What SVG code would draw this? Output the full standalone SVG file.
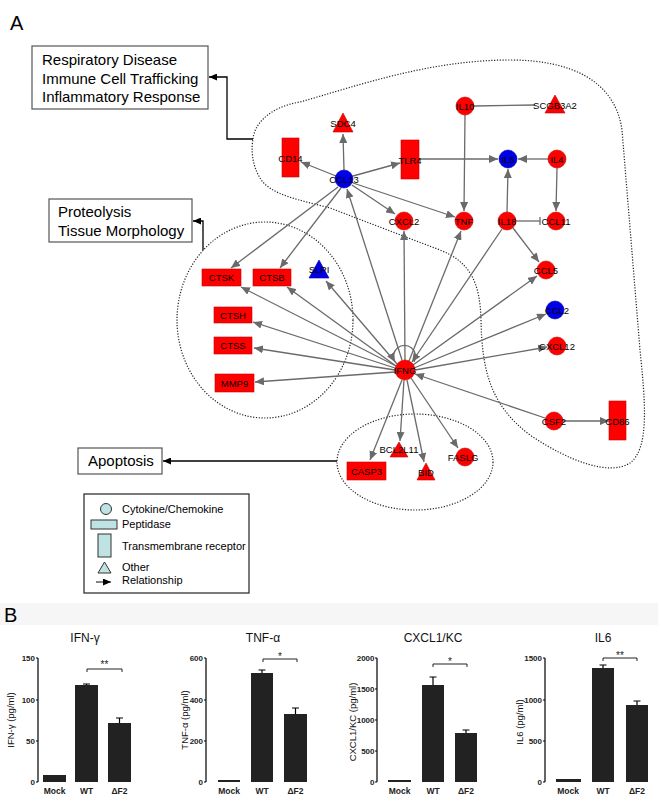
<svg xmlns="http://www.w3.org/2000/svg" width="658" height="800" viewBox="0 0 658 800">
<defs>
<marker id="ah" markerUnits="userSpaceOnUse" markerWidth="9" markerHeight="8" refX="9" refY="4" orient="auto"><path d="M0,0 L9,4 L0,8 z" fill="#6a6a6a"/></marker>
<marker id="ahk" markerUnits="userSpaceOnUse" markerWidth="8" markerHeight="7" refX="8" refY="3.5" orient="auto"><path d="M0,0 L8,3.5 L0,7 z" fill="#000"/></marker>
<style>
.t{font-family:"Liberation Sans",Arial,sans-serif;}
.lbl{font-family:"Liberation Sans",Arial,sans-serif;font-size:9.5px;fill:#000;text-anchor:middle;dominant-baseline:central;}
.big{font-family:"Liberation Sans",Arial,sans-serif;font-size:15px;fill:#000;}
.red{fill:#f00;stroke:#c80000;stroke-width:0.6;}
.blue{fill:#0000e8;stroke:#0000a0;stroke-width:0.6;}
.e{stroke:#6a6a6a;stroke-width:1.3;fill:none;marker-end:url(#ah);}
.en{stroke:#6a6a6a;stroke-width:1.3;fill:none;}
.cat{stroke:#000;stroke-width:1.3;fill:none;marker-end:url(#ahk);}
.box{fill:#fff;stroke:#555;stroke-width:1.2;}
.dot{fill:none;stroke:#222;stroke-width:1.2;stroke-dasharray:1.2 1.6;}
.leg{fill:#bfe3e3;stroke:#333;stroke-width:1;}
.lt{font-family:"Liberation Sans",Arial,sans-serif;font-size:11px;fill:#000;}
.ax{stroke:#000;stroke-width:1.2;fill:none;}
.bar{fill:#222;}
.tk{font-family:"Liberation Sans",Arial,sans-serif;font-size:8px;font-weight:bold;fill:#222;text-anchor:end;}
.xl{font-family:"Liberation Sans",Arial,sans-serif;font-size:8.5px;font-weight:bold;fill:#222;text-anchor:middle;}
.ti{font-family:"Liberation Sans",Arial,sans-serif;font-size:12px;fill:#111;text-anchor:middle;}
.yl{font-family:"Liberation Sans",Arial,sans-serif;font-size:9.5px;fill:#111;text-anchor:middle;}
.st{font-family:"Liberation Sans",Arial,sans-serif;font-size:10px;fill:#222;text-anchor:middle;}
</style>
</defs>
<rect width="658" height="800" fill="#fff"/>
<text class="t" x="10" y="30" font-size="20">A</text>

<!-- group regions -->
<g id="regions">
<path class="dot" d="M253,139 C255,120 275,106 300,102 C360,85 430,60 510,60 C570,60 615,80 622,130 L640,350 C645,400 650,448 630,463 C610,476 570,462 530,435 C490,405 482,370 481,320 C480,282 470,262 440,250 L330,208 C300,200 270,195 260,178 C252,165 251,150 253,139 Z"/>
<ellipse class="dot" cx="265" cy="320" rx="88" ry="98"/>
<ellipse class="dot" cx="415" cy="462" rx="78" ry="48"/>
</g>

<!-- category boxes -->
<g id="cat-respiratory">
<rect class="box" x="32" y="46" width="176" height="63"/>
<text class="big" x="42" y="65">Respiratory Disease</text>
<text class="big" x="42" y="83.5">Immune Cell Trafficking</text>
<text class="big" x="42" y="102">Inflammatory Response</text>
</g>
<g id="cat-proteolysis">
<rect class="box" x="49" y="199" width="143" height="43"/>
<text class="big" x="58" y="217">Proteolysis</text>
<text class="big" x="58" y="236">Tissue Morphology</text>
</g>
<g id="cat-apoptosis">
<rect class="box" x="78" y="448" width="84" height="26"/>
<text class="big" x="88" y="466">Apoptosis</text>
</g>

<!-- connectors -->
<g id="connectors">
<path class="cat" d="M253,139 H227 V77 H209"/>
<path class="cat" d="M203,250 V221 H193"/>
<path class="cat" d="M337,461 H163"/>

<line class="e" x1="336" y1="176" x2="301" y2="162"/>
<line class="e" x1="344" y1="170" x2="343" y2="134"/>
<line class="e" x1="353" y1="176" x2="400" y2="163"/>
<line class="e" x1="419" y1="159" x2="498" y2="159"/>
<line class="e" x1="548" y1="159" x2="518" y2="159"/>
<line class="en" x1="474" y1="106" x2="535" y2="105"/>
<line class="e" x1="465" y1="115" x2="464" y2="211"/>
<line class="e" x1="557" y1="168" x2="556" y2="211"/>
<line class="e" x1="507" y1="212" x2="508" y2="169"/>
<line class="en" x1="516" y1="221" x2="540" y2="221"/>
<line class="en" x1="540" y1="217" x2="540" y2="225"/>
<line class="e" x1="513" y1="228" x2="539" y2="262"/>
<line class="e" x1="352" y1="185" x2="395" y2="214"/>
<line class="e" x1="353" y1="183" x2="455" y2="217"/>
<line class="e" x1="338" y1="187" x2="231" y2="268"/>
<line class="e" x1="341" y1="188" x2="280" y2="268"/>
<line class="e" x1="402" y1="360" x2="347" y2="189"/>
<line class="e" x1="405" y1="360" x2="404" y2="231"/>
<line class="e" x1="409" y1="361" x2="461" y2="231"/>
<line class="e" x1="502" y1="229" x2="412" y2="362"/>
<line class="e" x1="413" y1="365" x2="537" y2="276"/>
<line class="e" x1="414" y1="368" x2="546" y2="314"/>
<line class="e" x1="415" y1="370" x2="547" y2="347"/>
<line class="e" x1="545" y1="418" x2="415" y2="374"/>
<line class="e" x1="563" y1="421" x2="609" y2="421"/>
<line class="e" x1="397" y1="364" x2="326" y2="281"/>
<line class="e" x1="396" y1="366" x2="241" y2="287"/>
<line class="e" x1="396" y1="366" x2="287" y2="287"/>
<line class="e" x1="395" y1="368" x2="253" y2="322"/>
<line class="e" x1="395" y1="370" x2="254" y2="348"/>
<line class="e" x1="395" y1="372" x2="255" y2="382"/>
<line class="e" x1="402" y1="380" x2="370" y2="460"/>
<line class="e" x1="404" y1="380" x2="400" y2="441"/>
<line class="e" x1="407" y1="380" x2="424" y2="462"/>
<line class="e" x1="411" y1="378" x2="458" y2="448"/>
<path class="e" d="M414,362 A11,11 0 1 0 395,362"/>
</g>

<!-- nodes -->
<g id="n-CD14"><rect class="red" x="282" y="138" width="17" height="39"/><text class="lbl" x="290.5" y="158">CD14</text></g>
<g id="n-SDC4"><polygon class="red" points="343,113 333,132 353,132"/><text class="lbl" x="343" y="123">SDC4</text></g>
<g id="n-CCL13"><circle class="blue" cx="344" cy="179" r="9"/><text class="lbl" x="344" y="179">CCL13</text></g>
<g id="n-TLR4"><rect class="red" x="401" y="140" width="18" height="39"/><text class="lbl" x="410" y="160">TLR4</text></g>
<g id="n-IL10"><circle class="red" cx="465" cy="106" r="9"/><text class="lbl" x="465" y="106">IL10</text></g>
<g id="n-SCGB3A2"><polygon class="red" points="555,95 545,113 565,113"/><text class="lbl" x="555" y="105">SCGB3A2</text></g>
<g id="n-IL6"><circle class="blue" cx="508" cy="159" r="9"/><text class="lbl" x="508" y="159">IL6</text></g>
<g id="n-IL4"><circle class="red" cx="557" cy="159" r="9"/><text class="lbl" x="557" y="159">IL4</text></g>
<g id="n-CXCL2"><circle class="red" cx="404" cy="221" r="9"/><text class="lbl" x="404" y="221">CXCL2</text></g>
<g id="n-TNF"><circle class="red" cx="464" cy="221" r="9"/><text class="lbl" x="464" y="221">TNF</text></g>
<g id="n-IL18"><circle class="red" cx="507" cy="221" r="9"/><text class="lbl" x="507" y="221">IL18</text></g>
<g id="n-CCL11"><circle class="red" cx="556" cy="221" r="9"/><text class="lbl" x="556" y="221">CCL11</text></g>
<g id="n-CCL5"><circle class="red" cx="546" cy="270" r="9"/><text class="lbl" x="546" y="270">CCL5</text></g>
<g id="n-CCL2"><circle class="blue" cx="555" cy="310" r="9"/><text class="lbl" x="557" y="310">CCL2</text></g>
<g id="n-CXCL12"><circle class="red" cx="557" cy="346" r="9"/><text class="lbl" x="557" y="346">CXCL12</text></g>
<g id="n-CSF2"><circle class="red" cx="554" cy="421" r="9"/><text class="lbl" x="554" y="421">CSF2</text></g>
<g id="n-CD86"><rect class="red" x="609" y="401" width="17" height="39"/><text class="lbl" x="617.5" y="421">CD86</text></g>
<g id="n-SLPI"><polygon class="blue" points="319,260 309,278 329,278"/><text class="lbl" x="319" y="269">SLPI</text></g>
<g id="n-CTSK"><rect class="red" x="202" y="269" width="39" height="17"/><text class="lbl" x="221.5" y="277.5">CTSK</text></g>
<g id="n-CTSB"><rect class="red" x="253" y="269" width="38" height="17"/><text class="lbl" x="272" y="277.5">CTSB</text></g>
<g id="n-CTSH"><rect class="red" x="214" y="307" width="38" height="16"/><text class="lbl" x="233" y="315">CTSH</text></g>
<g id="n-CTSS"><rect class="red" x="214" y="337" width="38" height="17"/><text class="lbl" x="233" y="345.5">CTSS</text></g>
<g id="n-MMP9"><rect class="red" x="215" y="374" width="39" height="18"/><text class="lbl" x="234.5" y="383">MMP9</text></g>
<g id="n-IFNG"><circle class="red" cx="405" cy="370" r="10"/><text class="lbl" x="405" y="370">IFNG</text></g>
<g id="n-CASP3"><rect class="red" x="347" y="462" width="39" height="18"/><text class="lbl" x="366.5" y="471">CASP3</text></g>
<g id="n-BCL2L11"><polygon class="red" points="399,442 390,457 408,457"/><text class="lbl" x="399" y="449">BCL2L11</text></g>
<g id="n-BID"><polygon class="red" points="426,463 417,480 435,480"/><text class="lbl" x="426" y="472">BID</text></g>
<g id="n-FASLG"><circle class="red" cx="465" cy="457" r="9"/><text class="lbl" x="463" y="457">FASLG</text></g>

<!-- legend -->
<g id="legend">
<rect x="84" y="494" width="165" height="99" fill="#fff" stroke="#222" stroke-width="1.2"/>
<circle class="leg" cx="106" cy="509" r="5.5"/>
<rect class="leg" x="91" y="520" width="26" height="9"/>
<rect class="leg" x="98" y="534" width="13" height="23"/>
<polygon class="leg" points="104.5,562 98,573 111,573"/>
<line x1="96" y1="582" x2="111" y2="582" stroke="#333" stroke-width="1.2" marker-end="url(#ahk)"/>
<text class="lt" x="122" y="513">Cytokine/Chemokine</text>
<text class="lt" x="122" y="528">Peptidase</text>
<text class="lt" x="122" y="550">Transmembrane receptor</text>
<text class="lt" x="122" y="571">Other</text>
<text class="lt" x="122" y="584">Relationship</text>
</g>

<!-- Panel B -->
<rect x="0" y="603" width="658" height="22" fill="#f6f6f6"/>
<text class="t" x="4" y="622" font-size="20">B</text>

<g id="chart-ifng">
<text class="ti" x="85" y="642">IFN-γ</text>
<path class="ax" d="M38,658 V782 M36,658 H38 M36,700 H38 M36,741 H38 M36,782 H38"/>
<text class="tk" x="35" y="661">150</text>
<text class="tk" x="35" y="703">100</text>
<text class="tk" x="35" y="744">50</text>
<text class="tk" x="35" y="785">0</text>
<text class="yl" transform="translate(14,720) rotate(-90)">IFN-γ (pg/ml)</text>
<rect class="bar" x="43" y="775" width="23" height="7"/>
<rect class="bar" x="75" y="685" width="23" height="97"/>
<rect class="bar" x="108" y="723" width="23" height="59"/>
<path class="ax" d="M86.5,685 V684 M83,684 H90 M119.5,723 V718 M116,718 H123"/>
<path d="M87,672 V669 H122 V672" stroke="#222" stroke-width="1" fill="none"/>
<text class="st" x="104.5" y="668">**</text>
<text class="xl" x="54.5" y="794">Mock</text>
<text class="xl" x="86.5" y="794">WT</text>
<text class="xl" x="119.5" y="794">ΔF2</text>
</g>

<g id="chart-tnf">
<text class="ti" x="263" y="642">TNF-α</text>
<path class="ax" d="M206,658 V782 M204,658 H206 M204,700 H206 M204,741 H206 M204,782 H206"/>
<text class="tk" x="203" y="661">600</text>
<text class="tk" x="203" y="703">400</text>
<text class="tk" x="203" y="744">200</text>
<text class="tk" x="203" y="785">0</text>
<text class="yl" transform="translate(188,720) rotate(-90)">TNF-α (pg/ml)</text>
<rect class="bar" x="218" y="780" width="22" height="2"/>
<rect class="bar" x="251" y="673" width="22" height="109"/>
<rect class="bar" x="284" y="714" width="23" height="68"/>
<path class="ax" d="M262,673 V670 M258.5,670 H265.5 M295.5,714 V708 M292,708 H299"/>
<path d="M263,662 V659 H297 V662" stroke="#222" stroke-width="1" fill="none"/>
<text class="st" x="280" y="660">*</text>
<text class="xl" x="229" y="794">Mock</text>
<text class="xl" x="262" y="794">WT</text>
<text class="xl" x="295.5" y="794">ΔF2</text>
</g>

<g id="chart-cxcl1">
<text class="ti" x="433" y="642">CXCL1/KC</text>
<path class="ax" d="M377,658 V782 M375,658 H377 M375,689 H377 M375,720 H377 M375,751 H377 M375,782 H377"/>
<text class="tk" x="374.5" y="661">2000</text>
<text class="tk" x="374.5" y="692">1500</text>
<text class="tk" x="374.5" y="723">1000</text>
<text class="tk" x="374.5" y="754">500</text>
<text class="tk" x="374.5" y="785">0</text>
<text class="yl" transform="translate(355.5,722) rotate(-90)">CXCL1/KC (pg/ml)</text>
<rect class="bar" x="388" y="780" width="23" height="2"/>
<rect class="bar" x="422" y="685" width="22" height="97"/>
<rect class="bar" x="455" y="733" width="22" height="49"/>
<path class="ax" d="M433,685 V677 M429.5,677 H436.5 M466,733 V730 M462.5,730 H469.5"/>
<path d="M433,667 V664 H467 V667" stroke="#222" stroke-width="1" fill="none"/>
<text class="st" x="450" y="665">*</text>
<text class="xl" x="399.5" y="794">Mock</text>
<text class="xl" x="433" y="794">WT</text>
<text class="xl" x="466" y="794">ΔF2</text>
</g>

<g id="chart-il6">
<text class="ti" x="603" y="642">IL6</text>
<path class="ax" d="M545,658 V782 M543,658 H545 M543,700 H545 M543,741 H545 M543,782 H545"/>
<text class="tk" x="542" y="661">1500</text>
<text class="tk" x="542" y="703">1000</text>
<text class="tk" x="542" y="744">500</text>
<text class="tk" x="542" y="785">0</text>
<text class="yl" transform="translate(523,722) rotate(-90)">IL6 (pg/ml)</text>
<rect class="bar" x="556" y="779" width="25" height="3"/>
<rect class="bar" x="592" y="668" width="22" height="114"/>
<rect class="bar" x="626" y="705" width="22" height="77"/>
<path class="ax" d="M603,668 V665 M599.5,665 H606.5 M637,705 V701 M633.5,701 H640.5"/>
<path d="M603,661 V658 H637 V661" stroke="#222" stroke-width="1" fill="none"/>
<text class="st" x="620" y="659">**</text>
<text class="xl" x="568" y="794">Mock</text>
<text class="xl" x="603" y="794">WT</text>
<text class="xl" x="637" y="794">ΔF2</text>
</g>
</svg>
